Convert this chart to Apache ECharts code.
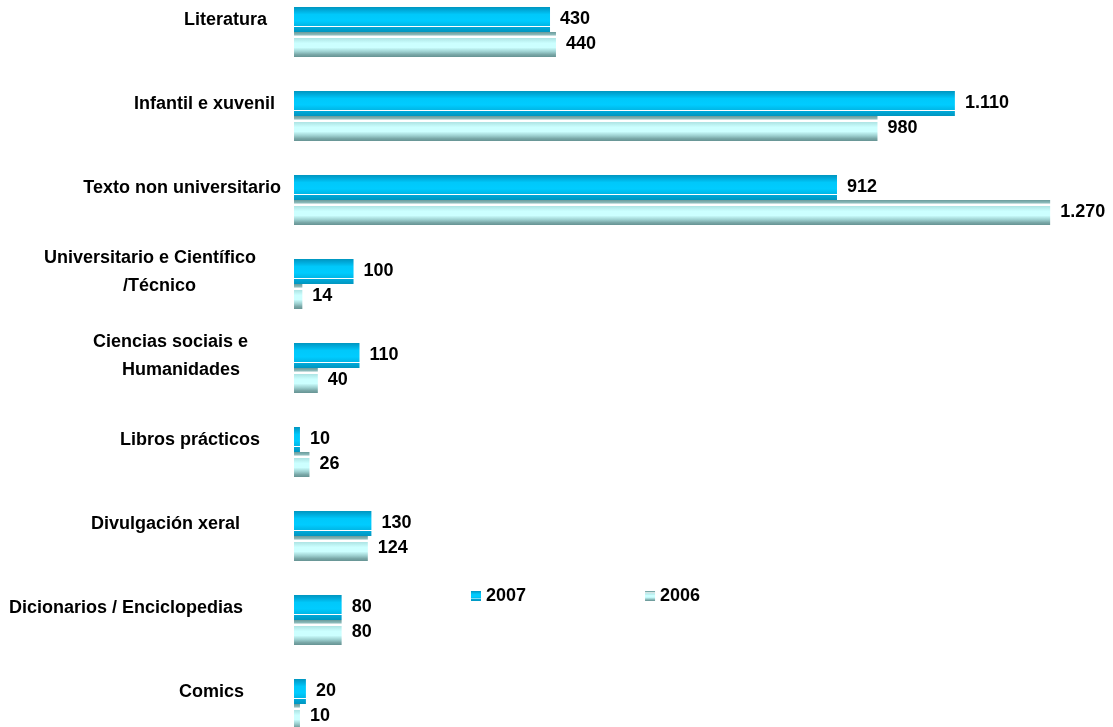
<!DOCTYPE html>
<html>
<head>
<meta charset="utf-8">
<script src="https://cdn.jsdelivr.net/npm/echarts@6/dist/echarts.min.js"></script>
<style>html,body{margin:0;padding:0;background:#fff;overflow:hidden;width:1113px;height:727px}
#c{position:absolute;left:0;top:-10px;width:1113px;height:756px}</style>
</head>
<body>
<div id="c"></div>
<script>
const categories = ['Literatura','Infantil e xuvenil','Texto non universitario','Universitario e Científico\n/Técnico','Ciencias sociais e\nHumanidades','Libros prácticos','Divulgación xeral','Dicionarios / Enciclopedias','Comics'];
const values2007 = [430,1110,912,100,110,10,130,80,20];
const values2006 = [440,980,1270,14,40,26,124,80,10];
const seriesNames = ['2007','2006'];

// label right-edge adjustments (style only)
const linePads = [[14],[6],[0],[25,85],[33,41],[21],[41],[38],[37]];

const fmt = v => String(v).replace(/\B(?=(\d{3})+(?!\d))/g,'.');

const rich = {};
linePads.forEach((pads,i)=>pads.forEach((p,j)=>{
  rich['c'+i+'_'+j] = {fontFamily:'Liberation Sans',fontWeight:'bold',fontSize:18,color:'#000',lineHeight:28,padding:[0,p,0,0]};
}));

const grad2007 = new echarts.graphic.LinearGradient(0,0,0,1,[
  {offset:0,color:'#0096bf'},{offset:0.12,color:'#00a8d8'},{offset:0.3,color:'#00c8fa'},
  {offset:0.55,color:'#00ccff'},{offset:0.74,color:'#00b8e8'},
  {offset:0.76,color:'#ffffff'},{offset:0.8,color:'#ffffff'},{offset:0.82,color:'#00a8d8'},
  {offset:1,color:'#0096bf'}]);
const grad2006 = new echarts.graphic.LinearGradient(0,0,0,1,[
  {offset:0,color:'#6a9a9a'},{offset:0.1,color:'#88b8b8'},
  {offset:0.18,color:'#ffffff'},{offset:0.22,color:'#ffffff'},
  {offset:0.26,color:'#b0e6e6'},{offset:0.45,color:'#ccffff'},{offset:0.62,color:'#ccffff'},
  {offset:0.8,color:'#99cccc'},{offset:0.9,color:'#7aa8a8'},{offset:1,color:'#669393'}]);

const labelStyle = {fontFamily:'Liberation Sans',fontWeight:'bold',fontSize:18,color:'#000'};

const chart = echarts.init(document.getElementById('c'));
chart.setOption({
  animation:false,
  backgroundColor:'#fff',
  legend:{
    left:466, top:592, itemWidth:10, itemHeight:10, itemGap:119,
    icon:'rect',
    textStyle:labelStyle,
    data:seriesNames
  },
  grid:{left:294, width:774, top:0, height:756, containLabel:false},
  xAxis:{type:'value', min:0, max:1300, show:false},
  yAxis:{
    type:'category', data:categories, inverse:true,
    axisLine:{show:false}, axisTick:{show:false}, splitLine:{show:false},
    axisLabel:{
      margin:13, align:'right', padding:[0,0,24,0],
      formatter:(v,i)=>v.split('\n').map((l,j)=>'{c'+i+'_'+j+'|'+l+'}').join('\n'),
      rich:rich
    }
  },
  series:[
    {name:seriesNames[0], type:'bar', data:values2007, barWidth:25, barGap:'0%',
     itemStyle:{color:grad2007},
     label:Object.assign({show:true, position:'right', distance:10, formatter:p=>fmt(p.value)}, labelStyle)},
    {name:seriesNames[1], type:'bar', data:values2006, barWidth:25, barGap:'0%',
     itemStyle:{color:grad2006},
     label:Object.assign({show:true, position:'right', distance:10, formatter:p=>fmt(p.value)}, labelStyle)}
  ]
});
</script>
</body>
</html>
